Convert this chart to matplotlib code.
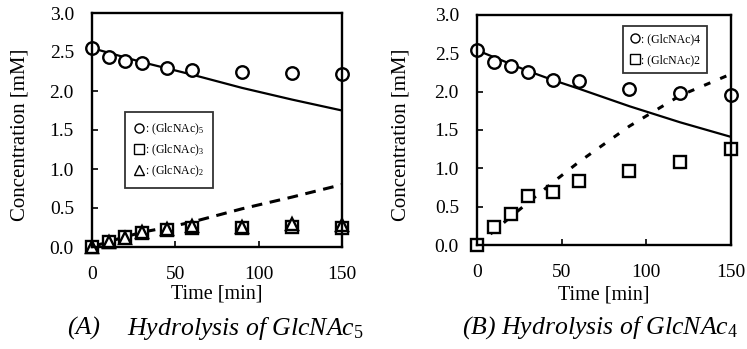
import matplotlib.pyplot as plt
from matplotlib.lines import Line2D

plt.rcParams['font.family'] = ['Liberation Serif', 'DejaVu Serif']
plt.rcParams['mathtext.fontset'] = 'custom'
plt.rcParams['mathtext.rm'] = 'Liberation Serif'
plt.rcParams['mathtext.it'] = 'Liberation Serif:italic'

# sampling times [min]
time = [0, 10, 20, 30, 45, 60, 90, 120, 150]

# (A) hydrolysis of GlcNAc5
a_glc5 = [2.55, 2.44, 2.38, 2.36, 2.30, 2.27, 2.25, 2.23, 2.22]
a_glc3 = [0.0, 0.07, 0.13, 0.18, 0.22, 0.25, 0.25, 0.26, 0.25]
a_glc2 = [0.0, 0.06, 0.12, 0.19, 0.23, 0.27, 0.26, 0.29, 0.28]
a_model_glc5 = [2.55, 2.49, 2.43, 2.37, 2.29, 2.21, 2.04, 1.89, 1.75]
a_model_prod = [0.0, 0.07, 0.13, 0.19, 0.25, 0.32, 0.49, 0.64, 0.80]

# (B) hydrolysis of GlcNAc4
b_glc4 = [2.54, 2.39, 2.33, 2.25, 2.15, 2.14, 2.04, 1.98, 1.96]
b_glc2 = [0.0, 0.23, 0.41, 0.64, 0.69, 0.83, 0.96, 1.08, 1.25]
b_model_glc4 = [2.54, 2.45, 2.36, 2.27, 2.15, 2.04, 1.81, 1.60, 1.41]
b_model_glc2 = [0.0, 0.18, 0.37, 0.55, 0.82, 1.08, 1.55, 1.95, 2.23]

xticks = [0, 50, 100, 150]
yticks = [0.0, 0.5, 1.0, 1.5, 2.0, 2.5, 3.0]

fig = plt.figure(figsize=(7.47, 3.49), dpi=100)
ax1 = fig.add_axes([92 / 747, 102 / 349, 250 / 747, 234 / 349])
ax2 = fig.add_axes([477 / 747, 104 / 349, 254 / 747, 230 / 349])

mk = dict(color='black', markerfacecolor='white', markeredgecolor='black',
          markersize=9, markeredgewidth=1.7, linestyle='none', clip_on=False)


def style_axes(ax, xlab_y, ylab_x):
    ax.set_xlim(0, 150)
    ax.set_ylim(0, 3.0)
    ax.set_xticks(xticks)
    ax.set_yticks(yticks)
    ax.set_yticklabels([f"{v:.1f}" for v in yticks])
    ax.tick_params(direction='in', length=4, width=1.2, labelsize=14)
    ax.tick_params(axis='x', pad=14)
    ax.tick_params(axis='y', pad=13)
    for s in ax.spines.values():
        s.set_linewidth(1.7)
    ax.set_xlabel("Time [min]", fontsize=14.5)
    ax.set_ylabel("Concentration [mM]", fontsize=15)
    ax.xaxis.set_label_coords(0.5, xlab_y)
    ax.yaxis.set_label_coords(ylab_x, 0.48)


# panel A
ax1.plot(time, a_model_glc5, color='black', lw=1.6)
ax1.plot(time, a_model_prod, color='black', lw=2.2, linestyle=(0, (3.5, 2.5)))
ax1.plot(time, a_glc5, marker='o', **mk)
ax1.plot(time, a_glc3, marker='s', **mk)
ax1.plot(time, a_glc2, marker='^', **mk)
style_axes(ax1, -0.162, -0.248)

h1 = [Line2D([], [], marker=m, color='black', markerfacecolor='white',
             markersize=6.5, markeredgewidth=1.0, linestyle='none')
      for m in ['o', 's', '^']]
leg1 = ax1.legend(h1, [r': (GlcNAc)$_5$', r': (GlcNAc)$_3$', r': (GlcNAc)$_2$'],
                  loc='upper left', bbox_to_anchor=(0.13, 0.575), fontsize=8.5,
                  frameon=True, fancybox=False, edgecolor='black',
                  handlelength=0.8, handletextpad=0.1, borderpad=0.8,
                  labelspacing=0.45, borderaxespad=0)
leg1.get_frame().set_linewidth(1.3)

# panel B
ax2.plot(time, b_model_glc4, color='black', lw=1.6)
ax2.plot(time, b_model_glc2, color='black', lw=2.2, linestyle=(0, (2.2, 3.5)))
ax2.plot(time, b_glc4, marker='o', **mk)
ax2.plot(time, b_glc2, marker='s', **mk)
style_axes(ax2, -0.174, -0.26)

h2 = [Line2D([], [], marker=m, color='black', markerfacecolor='white',
             markersize=6.5, markeredgewidth=1.0, linestyle='none')
      for m in ['o', 's']]
leg2 = ax2.legend(h2, [': (GlcNAc)4', ': (GlcNAc)2'],
                  loc='upper right', bbox_to_anchor=(0.905, 0.95), fontsize=8.5,
                  frameon=True, fancybox=False, edgecolor='black',
                  handlelength=0.8, handletextpad=0.1, borderpad=0.6,
                  labelspacing=0.7, borderaxespad=0)
leg2.get_frame().set_linewidth(1.3)

fig.text(67 / 747, 1 - 328 / 349, "(A)", fontsize=18.5,
         style='italic', ha='left', va='center')
fig.text(127 / 747, 1 - 328 / 349, r"Hydrolysis of GlcNAc$_5$", fontsize=18.5,
         style='italic', ha='left', va='center')
fig.text(462 / 747, 1 - 328 / 349, r"(B) Hydrolysis of GlcNAc$_4$", fontsize=18.5,
         style='italic', ha='left', va='center')

fig.savefig("out.png", dpi=100)
